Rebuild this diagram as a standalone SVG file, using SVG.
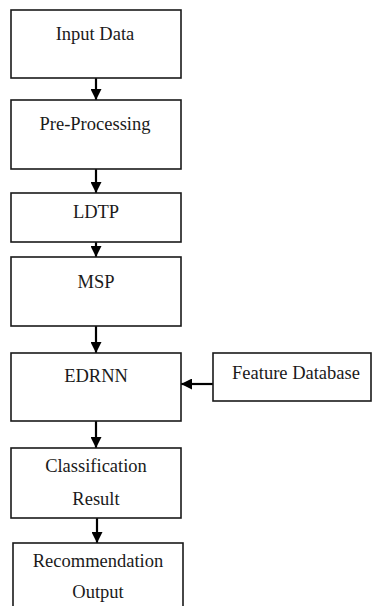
<svg xmlns="http://www.w3.org/2000/svg" width="372" height="606" viewBox="0 0 372 606">
<style>
.box{fill:#fff;stroke:#1a1a1a;stroke-width:1.6}
.t{font-family:"Liberation Serif",Tinos,"Times New Roman",Times,"Noto Serif","DejaVu Serif",serif;font-size:18.5px;fill:#1a1a1a;text-anchor:middle}
.c{stroke:#000;stroke-width:2.2;fill:none;marker-end:url(#ah)}
</style>
<defs>
<marker id="ah" viewBox="0 0 10 10" refX="10" refY="5" markerWidth="11" markerHeight="11" markerUnits="userSpaceOnUse" orient="auto">
<path d="M0,0 L10,5 L0,10 Z" fill="#000"/>
</marker>
</defs>
<rect width="372" height="606" fill="#fff"/>
<g id="connectors">
<line class="c" x1="96" y1="78" x2="96" y2="100"/>
<line class="c" x1="96" y1="169" x2="96" y2="193"/>
<line class="c" x1="96" y1="242" x2="96" y2="257"/>
<line class="c" x1="96" y1="326" x2="96" y2="353"/>
<line class="c" x1="213" y1="384" x2="181" y2="384"/>
<line class="c" x1="96" y1="421" x2="96" y2="448"/>
<line class="c" x1="97" y1="518" x2="97" y2="543"/>
</g>
<g id="input-data">
<rect class="box" x="11" y="10" width="170" height="68"/>
<text class="t" x="95" y="40">Input Data</text>
</g>
<g id="pre-processing">
<rect class="box" x="11" y="100" width="170" height="69"/>
<text class="t" x="95" y="130">Pre-Processing</text>
</g>
<g id="ldtp">
<rect class="box" x="11" y="193" width="170" height="49"/>
<text class="t" x="96" y="218">LDTP</text>
</g>
<g id="msp">
<rect class="box" x="11" y="257" width="170" height="69"/>
<text class="t" x="96" y="288">MSP</text>
</g>
<g id="edrnn">
<rect class="box" x="11" y="353" width="170" height="68"/>
<text class="t" x="96" y="382">EDRNN</text>
</g>
<g id="feature-database">
<rect class="box" x="213" y="353" width="158" height="48"/>
<text class="t" x="296" y="379">Feature Database</text>
</g>
<g id="classification-result">
<rect class="box" x="11" y="448" width="170" height="70"/>
<text class="t" x="96" y="472">Classification</text>
<text class="t" x="96" y="505">Result</text>
</g>
<g id="recommendation-output">
<rect class="box" x="13" y="543" width="170" height="70"/>
<text class="t" x="98" y="567">Recommendation</text>
<text class="t" x="98" y="598">Output</text>
</g>
</svg>
